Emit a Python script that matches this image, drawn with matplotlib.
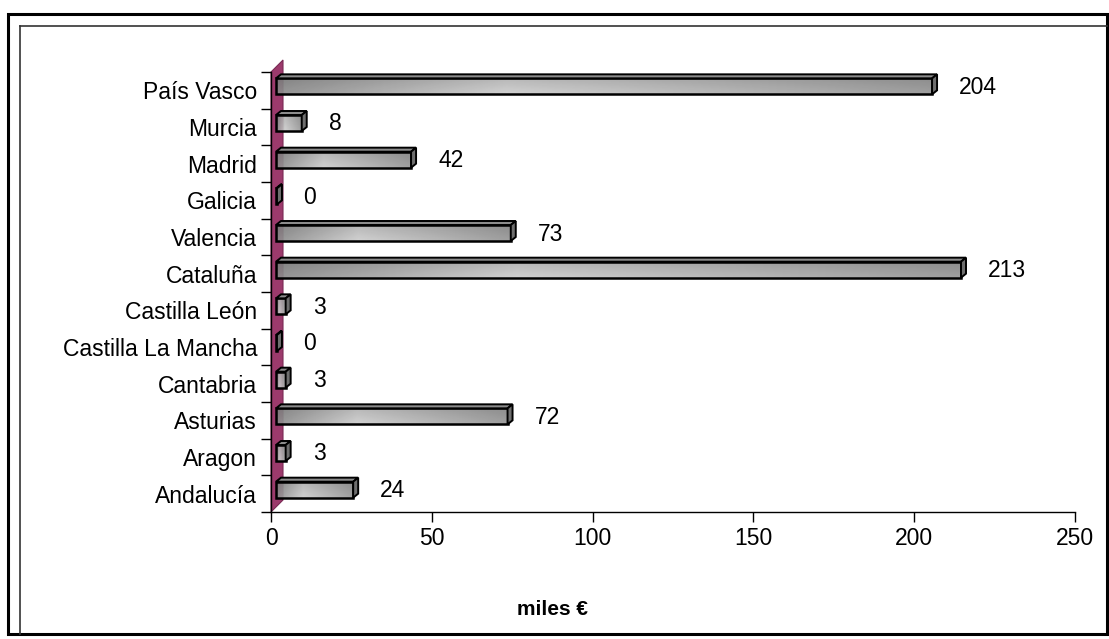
import numpy as np
import matplotlib
matplotlib.use('Agg')
import matplotlib.pyplot as plt
from matplotlib.patches import Rectangle, Polygon
from matplotlib.lines import Line2D

regions = ['Andalucía', 'Aragon', 'Asturias', 'Cantabria', 'Castilla La Mancha',
           'Castilla León', 'Cataluña', 'Valencia', 'Galicia', 'Madrid', 'Murcia',
           'País Vasco']
values = [24, 3, 72, 3, 0, 3, 213, 73, 0, 42, 8, 204]
xticks = [0, 50, 100, 150, 200, 250]

plt.rcParams['font.family'] = ['Liberation Sans', 'DejaVu Sans']

W, H = 1109, 639
fig = plt.figure(figsize=(W / 100, H / 100), dpi=100)
fig.patch.set_facecolor('white')

# frame around the whole chart
fig.add_artist(Rectangle((8 / W, 1 - 634 / H), 1099 / W, 620 / H, transform=fig.transFigure,
                         fill=False, edgecolor='black', linewidth=2.2))
fig.add_artist(Line2D([20 / W, 20 / W], [1 - 26 / H, 1 - 634 / H], transform=fig.transFigure,
                      color='#333333', linewidth=1.2))
fig.add_artist(Line2D([20 / W, 1107 / W], [1 - 26 / H, 1 - 26 / H], transform=fig.transFigure,
                      color='#333333', linewidth=1.2))

ax = fig.add_axes([271 / W, 1 - 512 / H, 804 / W, 440 / H])
ax.set_xlim(0, 250)
ax.set_ylim(-0.5, len(regions) - 0.5)

# pixel -> data conversion
ppx = 804 / 250
ppy = 440 / len(regions)

# back wall
wd = 12
wall = Polygon([(0, -0.5), (0, len(regions) - 0.5),
                (wd / ppx, len(regions) - 0.5 + wd / ppy), (wd / ppx, -0.5 + wd / ppy)],
               closed=True, facecolor='#9c3a6c', edgecolor='#7a2a55', linewidth=0.8,
               zorder=1, clip_on=False)
ax.add_patch(wall)

# bars
fx, fy = 5 / ppx, 4 / ppy      # front face offset
dx, dy = 5 / ppx, 4 / ppy      # bar depth
h = 16 / ppy                   # front face height
grad = np.interp(np.linspace(0, 1, 256), [0, 0.35, 1], [0.52, 0.76, 0.56])
grad = np.tile(grad, (8, 1))
vshade = np.linspace(0.92, 1.05, 8)[:, None]
img = np.clip(grad * vshade, 0, 1)

for i, v in enumerate(values):
    x0 = fx
    y0 = i - h / 2 + fy
    w = max(v, 0.3)
    ax.imshow(img, cmap='gray', vmin=0, vmax=1, extent=(x0, x0 + w, y0, y0 + h),
              aspect='auto', zorder=3, alpha=0.92, interpolation='bilinear')
    ax.add_patch(Rectangle((x0, y0), w, h, fill=False, edgecolor='black', linewidth=1.8, zorder=4))
    top = Polygon([(x0, y0 + h), (x0 + w, y0 + h), (x0 + w + dx, y0 + h + dy), (x0 + dx, y0 + h + dy)],
                  closed=True, facecolor='#8c8c8c', edgecolor='black', linewidth=1.4, zorder=4)
    side = Polygon([(x0 + w, y0), (x0 + w, y0 + h), (x0 + w + dx, y0 + h + dy), (x0 + w + dx, y0 + dy)],
                   closed=True, facecolor='#6e6e6e', edgecolor='black', linewidth=1.4, zorder=4)
    ax.add_patch(top)
    ax.add_patch(side)
    ax.annotate(str(v), (v, i), xytext=(32, 3), textcoords='offset pixels',
                ha='left', va='center', fontsize=16.5, color='black', zorder=5)

ax.set_xlim(0, 250)
ax.set_ylim(-0.5, len(regions) - 0.5)

for s in ['top', 'right']:
    ax.spines[s].set_visible(False)
ax.spines['left'].set_linewidth(1.0)
ax.spines['bottom'].set_linewidth(1.0)
ax.spines['left'].set_zorder(2)

ax.set_xticks(xticks)
ax.set_xticklabels([str(t) for t in xticks], fontsize=16.5)
ax.tick_params(axis='x', direction='out', length=7, width=1, pad=4)

ax.set_yticks(range(len(regions)))
ax.set_yticklabels(regions, fontsize=16.5)
ax.tick_params(axis='y', which='major', length=0, pad=10)
ax.set_yticks(np.arange(-0.5, len(regions)), minor=True)
ax.tick_params(axis='y', which='minor', direction='out', length=7, width=1)

ax.set_xlabel('miles €', fontsize=15, fontweight='bold')
ax.xaxis.set_label_coords(0.35, -0.2)

fig.savefig('out.png', dpi=100)
